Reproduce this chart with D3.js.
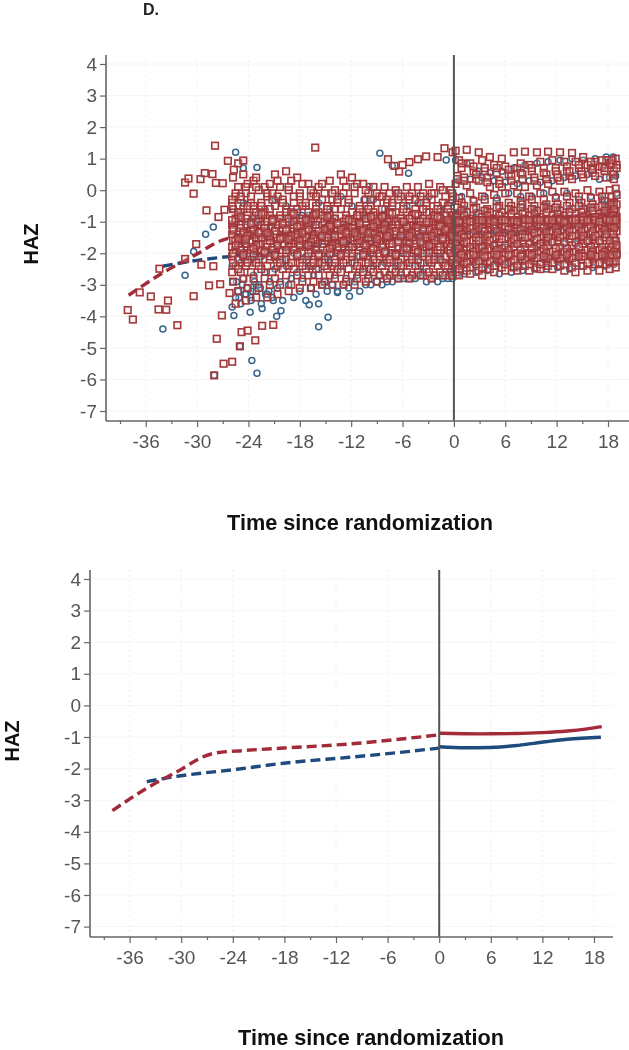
<!DOCTYPE html>
<html><head><meta charset="utf-8"><script src="https://cdn.jsdelivr.net/npm/d3@7"></script>
<style>html,body{margin:0;padding:0;background:#fff}svg{display:block;filter:blur(.5px)}text{font-family:"Liberation Sans",Arial,sans-serif}</style></head><body>
<script>
const yTicks=[4,3,2,1,0,-1,-2,-3,-4,-5,-6,-7];
const xTicks=[-36,-30,-24,-18,-12,-6,0,6,12,18];
const xMinor=[-39,-33,-27,-21,-15,-9,-3,3,9,15];
const redDashT=[-38,-34,-30.1,-27.4,-25.9,-22.8,-18.1,-10.4,-5,0];
const redDashV=[-3.33,-2.62,-2.04,-1.62,-1.5,-1.43,-1.35,-1.22,-1.08,-.93];
const blueDashT=[-34,-30.9,-23.5,-18.1,-10.4,-5,0];
const blueDashV=[-2.41,-2.26,-2.02,-1.83,-1.64,-1.5,-1.35];
const redSolidT=[0,5,9,12,14.9,17,18.9];
const redSolidV=[-.88,-.9,-.89,-.86,-.81,-.75,-.67];
const blueSolidT=[0,3,5.9,9,11,14.9,18.8];
const blueSolidV=[-1.31,-1.34,-1.33,-1.27,-1.2,-1.07,-1.01];
// isolated and arc markers
const redLooseT=[-38.1,-37.5,-36.7,-35.4,-33.4,-34.5,-33.6,-32.3,-30.4,-28.6,-27.3,-26.2,-27.1,-27.7,-28,-26.9,-25.9,-25,-24.8,-24.1,-23.2,-22.4,-21.1,-34.4,-31.4,-29.5,-28.1,-30.1,-28.9,-27.5,-26.8,-30.4,-31.4,-31,-29.6,-29.1,-28.2,-27.8,-27,-26.4,-25.7,-25.2,-24.6,-27.9,-16.2,-7.7,-6.95,-6.4,-6,-5.2,-4.2,-3.25,-1.9,-1.1,-.15];
const redLooseV=[-3.8,-4.1,-3.24,-3.37,-3.5,-3.78,-3.79,-4.28,-3.36,-3.02,-2.98,-3.26,-3.97,-4.71,-5.87,-5.5,-5.44,-4.95,-4.5,-4.45,-4.76,-4.3,-4.27,-2.49,-2.18,-2.36,-2.41,-1.71,-.64,-.85,-.62,-.11,.24,.37,.35,.54,.51,.23,.22,.93,.65,.85,.94,1.41,1.35,.98,.77,.59,.8,.89,.98,1.07,1.05,1.33,1.2];
const blueLooseT=[-25.5,-23,-24.6,-28.1,-29,-30.4,-31.4,-34,-25.7,-23.8,-22.4,-20.7,-20.2,-25,-23.6,-23,-28,-16.9,-15.8,-14.7,-15.8,-13.6,-12.2,-8.65,-5.3,-.9,-7.2,-9.9,-10.5,-25.4,-24.7,-24.2,-23.5,-23.1,-22.6,-22,-25.1,-24.4,-23.7,-23.3,-21.6,-21.1,-25.6,-24.9];
const blueLooseV=[1.2,.72,.7,-1.17,-1.4,-1.94,-2.7,-4.4,-3.97,-3.87,-3.75,-4,-3.82,-4.95,-5.4,-5.8,-5.87,-3.63,-3.6,-4.03,-4.33,-3.24,-3.36,1.17,.54,.96,.78,.12,-.3,-2.9,-3,-3.1,-3.2,-3,-3.1,-3.3,-3.4,-3.3,-3.4,-2.9,-3.2,-3.5,-1.6,-1.9];
// observation time grids
const leftTimes=[
[-25.8,-24.6,-23.4,-22.1,-20.9,-19.6,-18.3,-17,-15.8,-14.5,-13.2,-11.9,-10.6,-9.4,-8.1,-6.8,-5.5,-4.2,-2.9,-1.6,-.4],
[-25.2,-24.1,-22.8,-21.5,-20.3,-19,-17.7,-16.4,-15.1,-13.9,-12.6,-11.3,-10,-8.7,-7.5,-6.2,-4.9,-3.6,-2.3,-1,-.1],
[-25.5,-24.3,-23.1,-21.8,-20.6,-19.3,-18,-16.7,-15.4,-14.2,-12.9,-11.6,-10.3,-9,-7.8,-6.5,-5.2,-3.9,-2.6,-1.3,-.2],
[-25.9,-24.9,-23.7,-22.5,-21.2,-20,-18.7,-17.3,-16.1,-14.8,-13.6,-12.3,-11,-9.7,-8.4,-7.2,-5.9,-4.5,-3.2,-1.9,-.7]];
const rightTimes=[
[.2,1.5,2.9,4.2,5.6,7,8.3,9.7,11,12.4,13.8,15.1,16.5,17.8,18.6],
[.6,1.9,3.3,4.7,6,7.4,8.8,10.1,11.5,12.9,14.2,15.6,17,18.2,18.9],
[.9,2.3,3.6,5,6.4,7.8,9.1,10.5,11.9,13.2,14.6,16,17.3,18.4,19],
[.4,1.2,2.6,3.9,5.3,6.7,8,9.4,10.8,12.1,13.5,14.9,16.2,17.6,18.7]];
const redLeft=[
[.4,.5,.3,.1,.5,.6,.4,.2,.1,.3,.5,.4,.2,.1,.1,0,.1,.1,.2,.1,0],
[.1,.2,0,.2,.1,.3,.2,-.1,-.1,0,.1,.2,-.1,-.2,-.1,-.2,-.1,-.1,-.1,-.2,-.2],
[-.2,-.1,.1,-.2,-.2,0,-.1,-.2,-.3,-.3,-.1,-.1,-.3,-.4,-.4,-.3,-.3,-.4,-.3,-.4,-.3],
[-.4,-.3,-.4,-.4,-.3,-.3,-.4,-.5,-.5,-.5,-.4,-.4,-.5,-.5,-.6,-.5,-.5,-.6,-.5,-.5,-.5],
[-.6,-.6,-.6,-.7,-.5,-.6,-.6,-.7,-.7,-.8,-.6,-.7,-.7,-.7,-.8,-.7,-.7,-.8,-.7,-.7,-.7],
[-.8,-.8,-.9,-.8,-.8,-.8,-.9,-.9,-.9,-.9,-.8,-.9,-.9,-.9,-.9,-.9,-.9,-.9,-.9,-.8,-.9],
[-1,-.9,-1,-1,-1,-1,-1,-1,-1.1,-1.1,-1,-1,-1,-1.1,-1,-1,-1.1,-1,-1,-1,-1],
[-1.1,-1.1,-1.2,-1.1,-1.2,-1.1,-1.2,-1.2,-1.2,-1.2,-1.2,-1.2,-1.2,-1.2,-1.2,-1.1,-1.2,-1.2,-1.1,-1.2,-1.1],
[-1.3,-1.3,-1.3,-1.4,-1.3,-1.4,-1.3,-1.3,-1.4,-1.3,-1.3,-1.3,-1.4,-1.3,-1.3,-1.3,-1.3,-1.3,-1.3,-1.3,-1.3],
[-1.5,-1.4,-1.5,-1.5,-1.5,-1.5,-1.5,-1.5,-1.5,-1.5,-1.5,-1.5,-1.5,-1.5,-1.5,-1.5,-1.4,-1.5,-1.5,-1.4,-1.5],
[-1.6,-1.7,-1.6,-1.7,-1.6,-1.6,-1.7,-1.6,-1.7,-1.6,-1.7,-1.6,-1.6,-1.7,-1.6,-1.6,-1.6,-1.6,-1.7,-1.6,-1.6],
[-1.8,-1.8,-1.8,-1.9,-1.8,-1.9,-1.8,-1.8,-1.8,-1.9,-1.8,-1.8,-1.8,-1.8,-1.8,-1.8,-1.8,-1.8,-1.8,-1.8,-1.7],
[-2,-2,-2.1,-2,-2,-2,-2,-2.1,-2,-2,-2,-2,-2,-2,-2,-2,-1.9,-2,-1.9,-2,-1.9],
[-2.2,-2.2,-2.2,-2.2,-2.2,-2.1,-2.2,-2.2,-2.2,-2.2,-2.2,-2.1,-2.2,-2.1,-2.1,-2.2,-2.1,-2.1,-2.1,-2.1,-2.1],
[-2.4,-2.4,-2.3,-2.4,-2.4,-2.4,-2.3,-2.4,-2.3,-2.4,-2.3,-2.3,-2.3,-2.3,-2.3,-2.3,-2.3,-2.3,-2.3,-2.3,-2.2],
[-2.6,-2.6,-2.6,-2.5,-2.6,-2.5,-2.5,-2.5,-2.5,-2.5,-2.5,-2.5,-2.5,-2.5,-2.4,-2.5,-2.4,-2.4,-2.5,-2.4,-2.4],
[-2.9,-2.8,-2.8,-2.8,-2.8,-2.7,-2.7,-2.7,-2.7,-2.7,-2.6,-2.7,-2.6,-2.6,-2.6,-2.6,-2.6,-2.6,-2.6,-2.6,-2.6],
[-3.2,-3.1,-3.1,-3,-3,-3,-2.9,-2.9,-2.9,-2.8,-2.9,-2.8,-2.8,-2.7,-2.7,-2.7,-2.7,-2.7,-2.7,-2.7,-2.7],
[-3.6,-3.5,-3.4,-3.4,-3.3,-3.2,-3.1,-3.1,-3,-3,-3,-3,-2.9,-2.9,-2.8,-2.8,-2.8,-2.7,-2.8,-2.7,-2.7],
[-.3,-.7,-1.3,-1.9,-.9,-1.5,-1.1,-1.7,-.6,-1.2,-1.9,-1.4,-.8,-1.6,-1.1,-2,-1.3,-1.8,-.7,-1.5,-1.2],
[-1.2,-1.6,-.5,-1.1,-2.1,-.7,-1.5,-.9,-2.3,-1,-1.5,-2.1,-1.7,-.8,-2,-1,-1.6,-1.2,-2.2,-.9,-1.8],
[-.7,-.5,-.8,-.6,-.9,-.7,-.5,-.8,-1,-.6,-.9,-.8,-.6,-1,-.7,-.9,-.8,-.6,-.8,-1,-.8],
[-.9,-1.1,-.7,-1,-1.1,-.9,-1.1,-1,-.8,-1,-1.2,-1.1,-.9,-1,-1.2,-1.1,-.9,-1.1,-1.2,-1.1,-1],
[-1.4,-1.2,-1.1,-1.3,-1,-1.2,-1,-1.3,-1.1,-1.4,-1.1,-1.3,-1.1,-1.3,-1.4,-1.2,-1,-1.3,-1.4,-1.3,-1.2],
[-1.6,-1.5,-1.4,-1.2,-1.4,-1.3,-1.4,-1.1,-1.3,-1.1,-1.4,-1,-1.3,-1.4,-1.1,-1.4,-1.2,-1.4,-1,-1.1,-1.4],
[-1.7,-1.4,-1.7,-1.6,-1.5,-1.7,-1.6,-1.4,-1.6,-1.7,-1.5,-1.7,-1.5,-1.6,-1.7,-1.3,-1.5,-1.7,-1.6,-1.7,-1.6],
[-1.9,-1.7,-1.5,-1.8,-1.7,-1.8,-1.6,-1.9,-1.5,-1.8,-1.6,-1.5,-1.9,-1.7,-1.5,-1.8,-1.7,-1.5,-1.8,-1.5,-1.7],
[-2.1,-1.9,-1.9,-1.5,-1.9,-1.7,-1.9,-1.5,-1.9,-1.5,-1.8,-1.9,-1.6,-1.9,-1.8,-1.7,-1.9,-1.9,-1.5,-1.9,-1.9],
[-2.3,-2.1,-2,-2,-2.1,-2.2,-2.1,-2,-2.1,-2,-2.1,-2,-2.1,-2.2,-2,-2.1,-2,-2.2,-2,-2.2,-2],
[-2.5,-2.3,-2.4,-2.1,-2.3,-2.3,-2.4,-2.3,-2.4,-2.3,-2,-2.4,-2.3,-2,-2.2,-2.4,-2.2,-2,-2.2,-2.4,-2.3],
[-.1,.1,.4,-.1,.3,.1,-.2,0,.2,-.1,.3,.1,0,-.1,-.3,-.1,-.2,-.2,-.1,0,-.1],
[-.5,-.2,-.2,-.5,-.1,-.4,-.2,-.4,-.2,-.6,-.3,-.3,-.6,-.3,-.2,-.4,-.6,-.3,-.4,-.6,-.6],
[-1.25,-1.35,-1.25,-1.2,-1.3,-1.25,-1.15,-1.25,-1.3,-1.15,-1.25,-1.2,-1.25,-1.15,-1.25,-1.3,-1.15,-1.2,-1.25,-1.15,-1.05],
[-1.55,-1.45,-1.35,-1.45,-1.55,-1.45,-1.35,-1.55,-1.25,-1.45,-1.35,-1.45,-1.35,-1.45,-1.35,-1.45,-1.35,-1.25,-1.35,-1.25,-1.35],
[-1.75,-1.55,-1.75,-1.35,-1.75,-1.55,-1.75,-1.65,-1.45,-1.75,-1.65,-1.35,-1.75,-1.55,-1.45,-1.65,-1.45,-1.65,-1.45,-1.55,-1.45],
[-.95,-.85,-1.05,-.75,-.95,-1.05,-.75,-.95,-.75,-.85,-1.05,-.95,-1.05,-.85,-.85,-.75,-1,-.75,-1,-.85,-.95],
[-2,-2.05,-1.85,-1.95,-2.05,-1.9,-2.05,-1.75,-2.05,-1.85,-2.05,-1.8,-2.05,-1.85,-1.95,-2.05,-1.85,-1.95,-1.75,-1.8,-1.8]];
const redRight=[
[1.25,1.28,1.2,1.05,1,1.2,1.22,1.2,1.22,1.2,1.18,1.05,.9,.95,.85],
[.95,.85,.95,.8,.75,.7,.8,.9,.95,.9,.9,.8,.75,.85,1],
[.7,.6,.6,.55,.5,.55,.6,.7,.7,.75,.7,.7,.75,.8,.8],
[.45,.4,.35,.4,.3,.45,.5,.4,.5,.5,.45,.6,.55,.6,.6],
[.2,.15,.3,.1,.1,.15,.1,.15,.2,.3,.35,.4,.45,.4,.5],
[-.25,-.1,-.2,-.15,-.1,-.1,-.2,-.1,-.05,-.05,-.1,0,-.05,0,.05],
[-.4,-.35,-.3,-.35,-.4,-.35,-.3,-.3,-.25,-.2,-.2,-.25,-.2,-.2,-.15],
[-.55,-.5,-.55,-.6,-.5,-.5,-.45,-.5,-.45,-.45,-.4,-.4,-.45,-.35,-.4],
[-.8,-.7,-.75,-.7,-.7,-.65,-.7,-.65,-.6,-.65,-.6,-.6,-.55,-.55,-.5],
[-.95,-.9,-.85,-.9,-.85,-.85,-.8,-.85,-.8,-.8,-.75,-.8,-.75,-.7,-.7],
[-1.05,-1,-1,-.95,-1,-.95,-.95,-.95,-.9,-.95,-.9,-.9,-.9,-.85,-.85],
[-1.2,-1.15,-1.1,-1.1,-1.05,-1.05,-1.05,-1,-1,-1,-1,-.95,-.95,-.95,-.95],
[-1.3,-1.3,-1.25,-1.2,-1.2,-1.2,-1.15,-1.15,-1.1,-1.1,-1.1,-1.05,-1.05,-1.05,-1],
[-1.45,-1.4,-1.4,-1.35,-1.35,-1.3,-1.3,-1.3,-1.3,-1.25,-1.25,-1.2,-1.2,-1.15,-1.15],
[-1.6,-1.6,-1.55,-1.5,-1.5,-1.5,-1.45,-1.45,-1.45,-1.4,-1.4,-1.4,-1.35,-1.35,-1.3],
[-1.75,-1.7,-1.7,-1.7,-1.65,-1.65,-1.65,-1.6,-1.6,-1.6,-1.55,-1.55,-1.55,-1.5,-1.5],
[-1.95,-1.9,-1.85,-1.85,-1.85,-1.8,-1.8,-1.8,-1.75,-1.8,-1.75,-1.7,-1.7,-1.7,-1.7],
[-2.1,-2.05,-2.05,-2,-2,-2,-2,-1.95,-1.95,-1.95,-1.95,-1.9,-1.9,-1.9,-1.85],
[-2.25,-2.2,-2.15,-2.15,-2.1,-2.1,-2.1,-2.1,-2.1,-2.1,-2.05,-2.05,-2.05,-2.05,-2],
[-2.4,-2.35,-2.35,-2.3,-2.3,-2.3,-2.25,-2.25,-2.25,-2.2,-2.2,-2.2,-2.2,-2.2,-2.15],
[-2.6,-2.55,-2.55,-2.5,-2.45,-2.45,-2.4,-2.45,-2.4,-2.4,-2.45,-2.4,-2.35,-2.35,-2.3],
[-2.7,-2.65,-2.7,-2.6,-2.55,-2.55,-2.55,-2.5,-2.5,-2.55,-2.6,-2.55,-2.55,-2.5,-2.45],
[-.65,-.6,-.65,-.55,-.6,-.55,-.6,-.55,-.55,-.5,-.5,-.55,-.5,-.45,-.45],
[-.85,-.8,-.95,-.8,-.8,-.75,-.75,-.75,-.7,-.75,-.7,-.7,-.65,-.65,-.6],
[-1.1,-1.05,-1.05,-1.05,-.95,-1,-.9,-.9,-.95,-.9,-.95,-.85,-.85,-.9,-.8],
[-1.25,-1.2,-1.2,-1.15,-1.15,-1.1,-1.1,-1.1,-1.05,-1.05,-1.05,-1,-1,-1,-.9],
[-1.4,-1.35,-1.3,-1.3,-1.25,-1.25,-1.25,-1.2,-1.2,-1.15,-1.15,-1.15,-1.1,-1.1,-1.05],
[-1.55,-1.5,-1.5,-1.45,-1.45,-1.4,-1.4,-1.35,-1.35,-1.35,-1.3,-1.3,-1.3,-1.25,-1.2],
[-1.7,-1.65,-1.6,-1.6,-1.55,-1.55,-1.5,-1.55,-1.5,-1.5,-1.45,-1.45,-1.45,-1.4,-1.4],
[-1.85,-1.8,-1.8,-1.75,-1.75,-1.7,-1.7,-1.7,-1.65,-1.65,-1.65,-1.6,-1.6,-1.6,-1.6],
[-2,-1.95,-1.95,-1.9,-1.9,-1.9,-1.85,-1.85,-1.85,-1.85,-1.8,-1.8,-1.8,-1.8,-1.75],
[-2.2,-2.15,-2.1,-2.1,-2.05,-2.05,-2.05,-2,-2,-2.05,-2,-2,-1.95,-1.95,-1.95],
[-2.35,-2.3,-2.25,-2.25,-2.2,-2.2,-2.2,-2.15,-2.15,-2.15,-2.15,-2.1,-2.1,-2.1,-2.1],
[-2.5,-2.45,-2.45,-2.4,-2.35,-2.4,-2.35,-2.35,-2.3,-2.35,-2.3,-2.3,-2.3,-2.25,-2.25],
[.85,.75,.7,.7,.65,.85,.7,.55,.6,.6,.8,.9,.95,.95,.7],
[.35,.3,.5,.25,.2,.3,.35,.3,.35,.4,.6,.5,.65,.7,.35],
[-.95,-.95,-.95,-.95,-.95,-.95,-.95,-.95,-.95,-.95,-.95,-.95,-.95,-.95,-.95],
[-1,-1,-.95,-1,-.95,-1,-.95,-.95,-.95,-1,-.95,-.95,-1,-.95,-.95],
[-2.05,-2.05,-2.1,-2.05,-2.05,-2.1,-2.05,-2.1,-2.05,-2.05,-2.1,-2.05,-2.05,-2.05,-2.05]];
const blueLeft=[
[-.6,-.4,-.9,-.6,-.3,-.5,-.7,-.8,-.4,-.6,-.2,-.5,-.8,-.3,-.6,-.1,-.5,-.4,-.2,-.6,-.4],
[-1.3,-1,-1.1,-1.2,-.9,-1,-.8,-1.1,-1.2,-.9,-1.1,-1,-1.2,-.9,-1,-1.3,-1.1,-1.2,-.9,-1,-1.1],
[-1.9,-1.8,-1.6,-1.5,-1.7,-1.4,-1.5,-1.7,-1.6,-1.4,-1.6,-1.8,-1.5,-1.7,-1.6,-1.5,-1.7,-1.6,-1.4,-1.6,-1.5],
[-2.4,-2.3,-2.2,-2.1,-2,-2.2,-2,-2.1,-1.9,-2.1,-2,-1.9,-2.1,-2,-1.9,-2,-2,-2.1,-2,-2.1,-1.9],
[-2.9,-2.8,-2.7,-2.6,-2.5,-2.4,-2.6,-2.4,-2.5,-2.3,-2.4,-2.3,-2.5,-2.4,-2.3,-2.4,-2.3,-2.4,-2.3,-2.2,-2.3],
[-3.2,-3.1,-3,-2.9,-2.9,-2.8,-2.8,-2.7,-2.9,-2.7,-2.8,-2.7,-2.7,-2.7,-2.7,-2.6,-2.7,-2.6,-2.7,-2.6,-2.6],
[-3.4,-3.3,-3.2,-3.3,-3.1,-3,-3.2,-3.1,-3,-3,-3,-2.9,-3,-2.9,-2.9,-2.8,-2.8,-2.7,-2.8,-2.8,-2.8],
[-3.7,-3.6,-3.5,-3.6,-3.4,-3.5,-3.4,-3.5,-3.3,-3.2,-3.2,-3.1,-3.2,-3,-3,-2.9,-2.8,-2.8,-2.9,-2.9,-2.8]];
const blueRight=[
[.95,.85,.6,.55,.6,.7,.8,.85,.9,.95,1,.95,1,1.05,1.05],
[.3,.35,.4,.3,.25,.2,.3,.25,.3,.4,.45,.5,.35,.4,.45],
[-.2,-.3,-.2,-.25,-.1,-.2,-.2,-.1,-.2,-.1,-.3,-.2,-.3,-.2,-.1],
[-.7,-.6,-.7,-.65,-.55,-.6,-.55,-.6,-.5,-.6,-.6,-.5,-.55,-.45,-.5],
[-1.35,-1.3,-1.3,-1.25,-1.3,-1.3,-1.25,-1.2,-1.2,-1.15,-1.1,-1.1,-1.05,-1.05,-1],
[-1.8,-1.85,-1.8,-1.75,-1.8,-1.7,-1.7,-1.75,-1.65,-1.7,-1.7,-1.65,-1.65,-1.6,-1.6],
[-2.35,-2.3,-2.35,-2.25,-2.3,-2.2,-2.25,-2.2,-2.15,-2.2,-2.15,-2.1,-2.15,-2.1,-2.05],
[-2.7,-2.65,-2.6,-2.55,-2.65,-2.6,-2.55,-2.5,-2.5,-2.45,-2.5,-2.4,-2.45,-2.4,-2.35]];

const gridPts=(rows,grids)=>rows.flatMap((r,i)=>r.map((v,j)=>[grids[i%grids.length][j],v]));
const zip=(a,b)=>a.map((t,i)=>[t,b[i]]);
const redPts=[...zip(redLooseT,redLooseV),...gridPts(redLeft,leftTimes),...gridPts(redRight,rightTimes)];
const bluePts=[...zip(blueLooseT,blueLooseV),...gridPts(blueLeft,leftTimes),...gridPts(blueRight,rightTimes)];

const svg=d3.select("body").append("svg").attr("width",629).attr("height",1050);
const axisCol="#666",txtCol="#555";
function panel(o){
  const x=d3.scaleLinear().domain([-36,18]).range([o.x36,o.x18]);
  const y=d3.scaleLinear().domain([4,-7]).range([o.y4,o.ym7]);
  const g=svg.append("g");
  g.append("g").selectAll("line").data(yTicks).join("line").attr("x1",o.left).attr("x2",o.right).attr("y1",d=>y(d)).attr("y2",d=>y(d)).attr("stroke","#f5f5f5");
  g.append("g").selectAll("line").data(xTicks).join("line").attr("x1",d=>x(d)).attr("x2",d=>x(d)).attr("y1",o.top).attr("y2",o.bottom).attr("stroke","#eeeeee").attr("stroke-dasharray","2 3");
  if(o.marks){
    g.append("g").selectAll("circle").data(bluePts).join("circle").attr("cx",d=>x(d[0])).attr("cy",d=>y(d[1])).attr("r",3).attr("fill","#fff").attr("fill-opacity",.25).attr("stroke","#36648a").attr("stroke-width",1.5);
  }
  const line=d3.line().curve(d3.curveMonotoneX).x(d=>x(d[0])).y(d=>y(d[1]));
  const draw=(t,v,c,dash)=>g.append("path").attr("d",line(zip(t,v))).attr("fill","none").attr("stroke",c).attr("stroke-width",3.4).attr("stroke-dasharray",dash?"10 5":null);
  draw(blueDashT,blueDashV,"#1f4a7d",true);draw(redDashT,redDashV,"#a32a38",true);
  draw(blueSolidT,blueSolidV,"#1f4a7d",false);draw(redSolidT,redSolidV,"#a32a38",false);
  if(o.marks){
    g.append("g").selectAll("rect").data(redPts).join("rect").attr("x",d=>x(d[0])-3.3).attr("y",d=>y(d[1])-3.3).attr("width",6.6).attr("height",6.6).attr("fill","#f6ddd6").attr("fill-opacity",.2).attr("stroke","#a3383a").attr("stroke-width",1.6);
  }
  g.append("line").attr("x1",x(0)).attr("x2",x(0)).attr("y1",o.top).attr("y2",o.bottom).attr("stroke","#555").attr("stroke-width",2);
  const ax=g.append("g").attr("transform",`translate(0,${o.bottom})`).call(d3.axisBottom(x).tickValues(xTicks).tickSize(6).tickPadding(8).tickFormat(d=>String(d)));
  ax.select(".domain").remove();
  const axm=g.append("g").attr("transform",`translate(0,${o.bottom})`).call(d3.axisBottom(x).tickValues(xMinor.filter(d=>x(d)>o.left)).tickSize(3).tickFormat(""));
  axm.select(".domain").remove();
  const ay=g.append("g").attr("transform",`translate(${o.left},0)`).call(d3.axisLeft(y).tickValues(yTicks).tickSize(6).tickPadding(3).tickFormat(d=>String(d)));
  ay.select(".domain").remove();
  g.selectAll(".tick line").attr("stroke",axisCol).attr("stroke-width",1.2);
  g.selectAll(".tick text").attr("fill",txtCol).attr("font-size",19).attr("font-family",'"Liberation Sans",Arial,sans-serif');
  g.append("line").attr("x1",o.left).attr("x2",o.right).attr("y1",o.bottom).attr("y2",o.bottom).attr("stroke",axisCol).attr("stroke-width",1.6);
  g.append("line").attr("x1",o.left).attr("x2",o.left).attr("y1",o.top).attr("y2",o.bottom).attr("stroke",axisCol).attr("stroke-width",1.6);
  g.append("text").attr("x",o.xLabelX).attr("y",o.xLabelY).attr("text-anchor","middle").attr("font-weight","bold").attr("font-size",21.7).attr("fill","#111").text("Time since randomization");
  g.append("text").attr("transform",`translate(${o.hazX},${o.hazY}) rotate(-90)`).attr("text-anchor","middle").attr("font-weight","bold").attr("font-size",20).attr("fill","#111").text("HAZ");
}
svg.append("text").attr("x",143).attr("y",15).attr("font-weight","bold").attr("font-size",16).attr("fill","#222").text("D.");
panel({marks:true,x36:145.7,x18:608,y4:64,ym7:411,left:106,right:629,top:55,bottom:421,xLabelX:360,xLabelY:530,hazX:38,hazY:244});
panel({marks:false,x36:129.6,x18:594,y4:579,ym7:926.6,left:90,right:613,top:570,bottom:937,xLabelX:371,xLabelY:1045,hazX:19,hazY:741});
</script></body></html>
